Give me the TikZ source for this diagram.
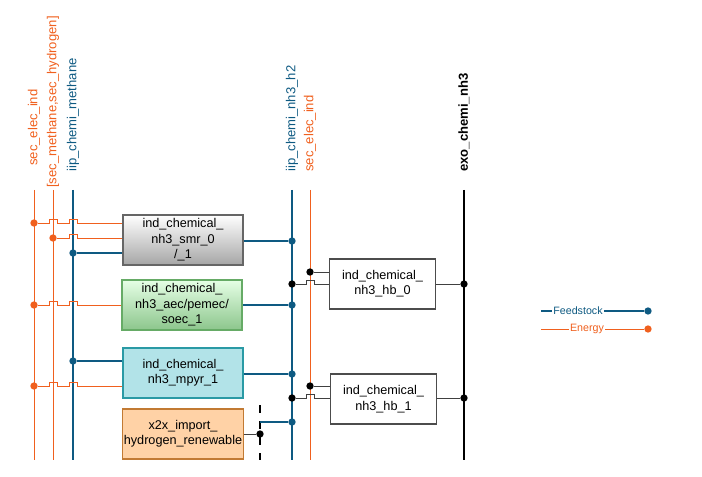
\documentclass[tikz,border=0pt]{standalone}
\usepackage{fontspec}
\setmainfont{Liberation Sans}
\begin{document}
\definecolor{fblue}{HTML}{0E5A82}
\definecolor{eor}{HTML}{F0601E}
\definecolor{mpf}{HTML}{B2E3E8}
\definecolor{mpd}{HTML}{2A9AA5}
\begin{tikzpicture}[x=0.75pt,y=-0.75pt,
  feed/.style={draw=fblue,line width=1.4pt},
  ener/.style={draw=eor,line width=0.7pt},
  blk/.style={draw=black!75,line width=0.7pt},
  fdot/.style={circle,fill=fblue,inner sep=0pt,minimum size=5.5pt},
  edot/.style={circle,fill=eor,inner sep=0pt,minimum size=5.5pt},
  kdot/.style={circle,fill=black,inner sep=0pt,minimum size=5.5pt},
  box/.style={draw=black!60,line width=0.8pt,minimum width=90pt,minimum height=37.5pt,align=center,font=\fontsize{9.5}{11.5}\selectfont,inner sep=1pt},
  lab/.style={rotate=90,anchor=west,font=\fontsize{9.8}{10}\selectfont,inner sep=0pt}]
\useasboundingbox (0,0) rectangle (702,477);
% vertical buses
\coordinate (e1t) at (34,190); \coordinate (e1b) at (34,460);
\coordinate (e2t) at (53,190); \coordinate (e2b) at (53,460);
\coordinate (b1t) at (73,190); \coordinate (b1b) at (73,460);
\coordinate (b2t) at (292,190); \coordinate (b2b) at (292,460);
\coordinate (e3t) at (310,190); \coordinate (e3b) at (310,460);
\coordinate (k1t) at (464,190); \coordinate (k1b) at (464,460);
\coordinate (dt) at (260,405); \coordinate (db) at (260,460);
\draw[ener] (e1t)--(e1b); \draw[ener] (e2t)--(e2b); \draw[ener] (e3t)--(e3b);
\draw[feed] (b1t)--(b1b); \draw[feed] (b2t)--(b2b);
\draw[black,line width=0.8pt] (k1t)--(k1b);
\draw[black,line width=0.8pt,dash pattern=on 6pt off 6pt] (dt)--(db);
\node[lab,text=eor] (l1) at (34,166) {sec\_elec\_ind};
\node[lab,text=eor] (l2) at (53,188) {[sec\_methane,sec\_hydrogen]};
\node[lab,text=fblue] (l3) at (73,172) {iip\_chemi\_methane};
\node[lab,text=fblue] (l4) at (292,172) {iip\_chemi\_nh3\_h2};
\node[lab,text=eor] (l5) at (310,172) {sec\_elec\_ind};
\node[lab,text=black,font=\fontsize{9.8}{10}\selectfont\bfseries] (l6) at (464,172) {exo\_chemi\_nh3};
% boxes
\node[box,top color=white,bottom color=black!35] (smr) at (183,240) {ind\_chemical\_\\nh3\_smr\_0\\/\_1};
\node[box,draw=green!45!black!60,top color=green!10!white,bottom color=green!50!black!45!white] (aec) at (182,305) {ind\_chemical\_\\nh3\_aec/pemec/\\soec\_1};
\node[box,draw=mpd,fill=mpf] (mpyr) at (183,373) {ind\_chemical\_\\nh3\_mpyr\_1};
\node[box,draw=orange!70!black!80,fill=orange!35!white] (x2x) at (183,434) {x2x\_import\_\\hydrogen\_renewable};
\node[box,draw=black!70,minimum width=79pt] (hb0) at (382.5,284) {ind\_chemical\_\\nh3\_hb\_0};
\node[box,draw=black!70,minimum width=79pt] (hb1) at (383.5,399) {ind\_chemical\_\\nh3\_hb\_1};
% dots
\node[edot] (d1) at (34,223) {}; \node[edot] (d2) at (53,238) {}; \node[fdot] (d3) at (73,253) {};
\node[fdot] (d4) at (292,241) {};
\node[edot] (d5) at (34,305) {}; \node[fdot] (d6) at (292,305) {};
\node[fdot] (d7) at (73,361) {}; \node[edot] (d8) at (34,386) {}; \node[fdot] (d9) at (292,374) {};
\node[kdot] (d10) at (260,434) {}; \node[fdot] (d11) at (292,422) {};
\node[kdot] (d12) at (310,272) {}; \node[kdot] (d13) at (292,284) {}; \node[kdot] (d14) at (464,284) {};
\node[kdot] (d15) at (310,386) {}; \node[kdot] (d16) at (292,398) {}; \node[kdot] (d17) at (464,398) {};
% connectors
\draw[ener] (d1) -- (49,223) -- ++(0,-4) -- ++(8,0) -- ++(0,4) -- (69,223) -- ++(0,-4) -- ++(8,0) -- ++(0,4) -- (smr.west |- d1);
\draw[ener] (d2) -- (69,238) -- ++(0,-4) -- ++(8,0) -- ++(0,4) -- (smr.west |- d2);
\draw[feed] (d3) -- (smr.west |- d3);
\draw[feed] (smr.east |- d4) -- (d4);
\draw[ener] (d5) -- (49,305) -- ++(0,-4) -- ++(8,0) -- ++(0,4) -- (69,305) -- ++(0,-4) -- ++(8,0) -- ++(0,4) -- (aec.west |- d5);
\draw[feed] (aec.east |- d6) -- (d6);
\draw[feed] (d7) -- (mpyr.west |- d7);
\draw[ener] (d8) -- (49,386) -- ++(0,-4) -- ++(8,0) -- ++(0,4) -- (69,386) -- ++(0,-4) -- ++(8,0) -- ++(0,4) -- (mpyr.west |- d8);
\draw[feed] (mpyr.east |- d9) -- (d9);
\draw[blk] (x2x.east |- d10) -- (d10);
\draw[feed] (260,422) -- (d11);
\draw[blk] (d12) -- (hb0.west |- d12);
\draw[blk] (d13) -- (306,284) -- ++(0,-4) -- ++(8,0) -- ++(0,4) -- (hb0.west |- d13);
\draw[blk] (hb0.east |- d14) -- (d14);
\draw[blk] (d15) -- (hb1.west |- d15);
\draw[blk] (d16) -- (306,398) -- ++(0,-4) -- ++(8,0) -- ++(0,4) -- (hb1.west |- d16);
\draw[blk] (hb1.east |- d17) -- (d17);
% legend
\coordinate (lf) at (541,311); \node[fdot] (lfd) at (648,311) {};
\draw[feed] (lf) -- (lfd);
\node[font=\fontsize{8}{9}\selectfont,text=fblue,fill=white,inner sep=1pt] (lft) at (578,311) {Feedstock};
\coordinate (le) at (541,329); \node[edot] (led) at (648,329) {};
\draw[ener] (le) -- (led);
\node[font=\fontsize{8}{9}\selectfont,text=eor,fill=white,inner sep=1pt] (let) at (587,329) {Energy};
\end{tikzpicture}
\end{document}
